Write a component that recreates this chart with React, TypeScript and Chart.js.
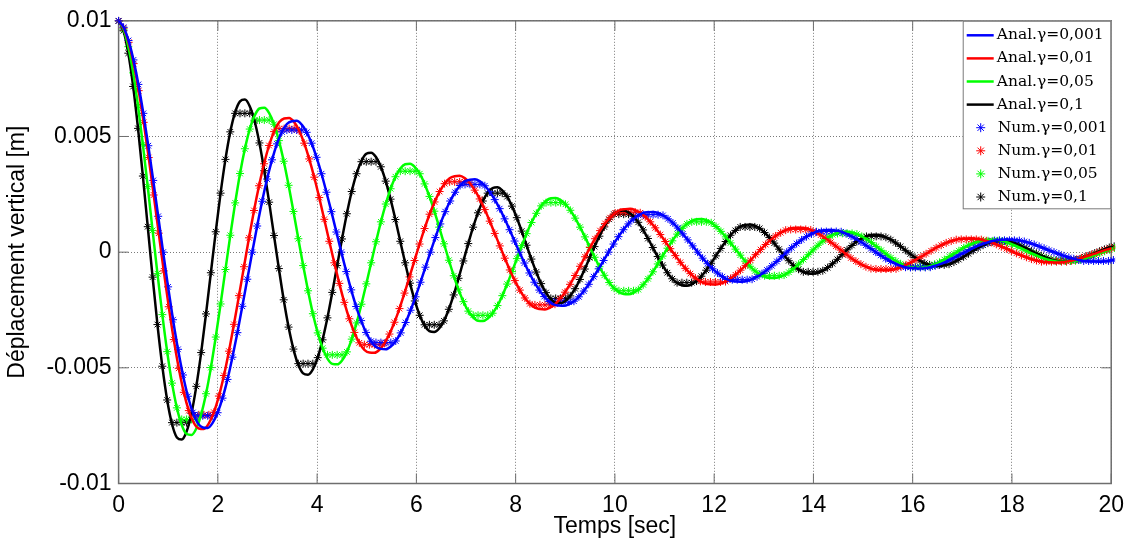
import React, { useEffect, useRef } from 'react';
import { Chart, registerables } from 'chart.js';

Chart.register(...registerables);

// ---------- axes ----------
const X_TICKS = [0, 2, 4, 6, 8, 10, 12, 14, 16, 18, 20];
const Y_TICKS = [-0.01, -0.005, 0, 0.005, 0.01];
const Y_TICK_LABELS = ['-0.01', '-0.005', '0', '0.005', '0.01'];

// ---------- legend labels ----------
const ANAL_LABELS = ['Anal.γ=0,001', 'Anal.γ=0,01', 'Anal.γ=0,05', 'Anal.γ=0,1'];
const NUM_LABELS = ['Num.γ=0,001', 'Num.γ=0,01', 'Num.γ=0,05', 'Num.γ=0,1'];
const COLORS = ['#0000ff', '#ff0000', '#00ff00', '#000000'];

// ---------- sampling time step of each series [s] ----------
const DT_G0001 = 0.09972;
const DT_G001 = 0.10106;
const DT_G005 = 0.09787;
const DT_G01 = 0.09785;

// ---------- displacement values [mm], sample i at t = i * DT ----------
const ANAL_G0001_MM = [
  10, 9.72, 9.15, 8.31, 7.25, 6.0, 4.6, 3.1, 1.55, 0, -1.5, -2.92, -4.2, -5.31, -6.23, -6.93, -7.39, -7.58,
  -7.6, -7.38, -6.94, -6.31, -5.5, -4.54, -3.48, -2.34, -1.17, 0, 1.13, 2.2, 3.16, 3.99, 4.68, 5.2, 5.54, 5.66,
  5.68, 5.51, 5.18, 4.71, 4.1, 3.39, 2.59, 1.75, 0.87, 0, -0.84, -1.63, -2.35, -2.96, -3.47, -3.85, -4.1, -4.18,
  -4.2, -4.08, -3.84, -3.49, -3.04, -2.51, -1.93, -1.3, -0.65, 0, 0.63, 1.22, 1.75, 2.21, 2.59, 2.88, 3.07, 3.13,
  3.15, 3.06, 2.87, 2.61, 2.27, 1.88, 1.44, 0.97, 0.48, 0, -0.47, -0.9, -1.3, -1.64, -1.92, -2.13, -2.27, -2.31,
  -2.32, -2.25, -2.12, -1.93, -1.68, -1.39, -1.06, -0.72, -0.36, 0, 0.35, 0.67, 0.97, 1.22, 1.43, 1.59, 1.7, 1.73,
  1.74, 1.69, 1.59, 1.44, 1.26, 1.04, 0.79, 0.53, 0.27, 0, -0.26, -0.5, -0.72, -0.9, -1.06, -1.18, -1.25, -1.27,
  -1.28, -1.24, -1.17, -1.06, -0.93, -0.77, -0.59, -0.4, -0.2, 0, 0.19, 0.37, 0.53, 0.67, 0.79, 0.88, 0.94, 0.95,
  0.96, 0.93, 0.88, 0.8, 0.69, 0.57, 0.44, 0.3, 0.15, 0, -0.14, -0.28, -0.4, -0.5, -0.59, -0.65, -0.69, -0.7,
  -0.71, -0.69, -0.65, -0.59, -0.52, -0.43, -0.33, -0.22, -0.11, 0, 0.11, 0.21, 0.3, 0.38, 0.45, 0.5, 0.53, 0.54,
  0.55, 0.53, 0.5, 0.46, 0.4, 0.33, 0.25, 0.17, 0.08, 0, -0.08, -0.16, -0.23, -0.29, -0.34, -0.38, -0.4, -0.4,
  -0.41, -0.4, -0.38, -0.34,
];
const NUM_G0001_MM = [
  10, 9.72, 9.15, 8.31, 7.25, 6.0, 4.6, 3.1, 1.55, 0, -1.5, -2.92, -4.2, -5.31, -6.23, -6.93, -7.07, -7.07,
  -7.07, -7.07, -6.94, -6.31, -5.5, -4.54, -3.48, -2.34, -1.17, 0, 1.13, 2.2, 3.16, 3.99, 4.68, 5.2, 5.28, 5.28,
  5.28, 5.28, 5.18, 4.71, 4.1, 3.39, 2.59, 1.75, 0.87, 0, -0.84, -1.63, -2.35, -2.96, -3.47, -3.85, -3.91, -3.91,
  -3.91, -3.91, -3.84, -3.49, -3.04, -2.51, -1.93, -1.3, -0.65, 0, 0.63, 1.22, 1.75, 2.21, 2.59, 2.88, 2.93, 2.93,
  2.93, 2.93, 2.87, 2.61, 2.27, 1.88, 1.44, 0.97, 0.48, 0, -0.47, -0.9, -1.3, -1.64, -1.92, -2.13, -2.16, -2.16,
  -2.16, -2.16, -2.12, -1.93, -1.68, -1.39, -1.06, -0.72, -0.36, 0, 0.35, 0.67, 0.97, 1.22, 1.43, 1.59, 1.62, 1.62,
  1.62, 1.62, 1.59, 1.44, 1.26, 1.04, 0.79, 0.53, 0.27, 0, -0.26, -0.5, -0.72, -0.9, -1.06, -1.18, -1.19, -1.19,
  -1.19, -1.19, -1.17, -1.06, -0.93, -0.77, -0.59, -0.4, -0.2, 0, 0.19, 0.37, 0.53, 0.67, 0.79, 0.88, 0.89, 0.89,
  0.89, 0.89, 0.88, 0.8, 0.69, 0.57, 0.44, 0.3, 0.15, 0, -0.14, -0.28, -0.4, -0.5, -0.59, -0.65, -0.66, -0.66,
  -0.66, -0.66, -0.65, -0.59, -0.52, -0.43, -0.33, -0.22, -0.11, 0, 0.11, 0.21, 0.3, 0.38, 0.45, 0.5, 0.51, 0.51,
  0.51, 0.51, 0.5, 0.46, 0.4, 0.33, 0.25, 0.17, 0.08, 0, -0.08, -0.16, -0.23, -0.29, -0.34, -0.38, -0.38, -0.38,
  -0.38, -0.38, -0.38, -0.34,
];

const ANAL_G001_MM = [
  10, 9.69, 9.07, 8.15, 6.98, 5.61, 4.09, 2.47, 0.82, -0.81, -2.36, -3.78, -5.02, -6.06, -6.85, -7.38, -7.62,
  -7.64, -7.4, -6.92, -6.22, -5.33, -4.28, -3.12, -1.88, -0.63, 0.62, 1.8, 2.87, 3.82, 4.61, 5.21, 5.61, 5.78,
  5.8, 5.62, 5.25, 4.71, 4.03, 3.24, 2.36, 1.42, 0.47, -0.46, -1.35, -2.17, -2.88, -3.47, -3.92, -4.22, -4.34,
  -4.35, -4.22, -3.94, -3.54, -3.03, -2.44, -1.77, -1.07, -0.36, 0.35, 1.02, 1.64, 2.17, 2.62, 2.96, 3.19, 3.28,
  3.3, 3.2, 2.99, 2.68, 2.3, 1.84, 1.34, 0.81, 0.27, -0.26, -0.77, -1.23, -1.64, -1.98, -2.23, -2.4, -2.46,
  -2.48, -2.4, -2.25, -2.02, -1.73, -1.39, -1.01, -0.61, -0.2, 0.2, 0.58, 0.93, 1.24, 1.49, 1.69, 1.82, 1.86,
  1.88, 1.82, 1.7, 1.53, 1.31, 1.05, 0.76, 0.46, 0.15, -0.15, -0.44, -0.7, -0.93, -1.12, -1.26, -1.36, -1.39,
  -1.4, -1.36, -1.27, -1.14, -0.98, -0.78, -0.57, -0.35, -0.11, 0.11, 0.33, 0.53, 0.7, 0.84, 0.95, 1.03, 1.05,
  1.06, 1.03, 0.96, 0.86, 0.74, 0.59, 0.43, 0.26, 0.09, -0.08, -0.25, -0.39, -0.52, -0.63, -0.71, -0.77, -0.78,
  -0.79, -0.77, -0.72, -0.64, -0.55, -0.44, -0.32, -0.2, -0.07, 0.06, 0.19, 0.3, 0.4, 0.48, 0.54, 0.58, 0.59,
  0.6, 0.58, 0.54, 0.49, 0.42, 0.34, 0.24, 0.15, 0.05, -0.05, -0.14, -0.22, -0.3, -0.36, -0.41, -0.44, -0.44,
  -0.45, -0.44, -0.41, -0.37, -0.31, -0.25, -0.18, -0.11, -0.04, 0.04, 0.11, 0.17,
];
const NUM_G001_MM = [
  10, 9.69, 9.07, 8.15, 6.98, 5.61, 4.09, 2.47, 0.82, -0.81, -2.36, -3.78, -5.02, -6.06, -6.85, -7.03, -7.03,
  -7.03, -7.03, -6.92, -6.22, -5.33, -4.28, -3.12, -1.88, -0.63, 0.62, 1.8, 2.87, 3.82, 4.61, 5.21, 5.34, 5.34,
  5.34, 5.34, 5.25, 4.71, 4.03, 3.24, 2.36, 1.42, 0.47, -0.46, -1.35, -2.17, -2.88, -3.47, -3.92, -4.0, -4.0,
  -4.0, -4.0, -3.94, -3.54, -3.03, -2.44, -1.77, -1.07, -0.36, 0.35, 1.02, 1.64, 2.17, 2.62, 2.96, 3.04, 3.04,
  3.04, 3.04, 2.99, 2.68, 2.3, 1.84, 1.34, 0.81, 0.27, -0.26, -0.77, -1.23, -1.64, -1.98, -2.23, -2.28, -2.28,
  -2.28, -2.28, -2.25, -2.02, -1.73, -1.39, -1.01, -0.61, -0.2, 0.2, 0.58, 0.93, 1.24, 1.49, 1.69, 1.73, 1.73,
  1.73, 1.73, 1.7, 1.53, 1.31, 1.05, 0.76, 0.46, 0.15, -0.15, -0.44, -0.7, -0.93, -1.12, -1.26, -1.29, -1.29,
  -1.29, -1.29, -1.27, -1.14, -0.98, -0.78, -0.57, -0.35, -0.11, 0.11, 0.33, 0.53, 0.7, 0.84, 0.95, 0.98, 0.98,
  0.98, 0.98, 0.96, 0.86, 0.74, 0.59, 0.43, 0.26, 0.09, -0.08, -0.25, -0.39, -0.52, -0.63, -0.71, -0.73, -0.73,
  -0.73, -0.73, -0.72, -0.64, -0.55, -0.44, -0.32, -0.2, -0.07, 0.06, 0.19, 0.3, 0.4, 0.48, 0.54, 0.55, 0.55,
  0.55, 0.55, 0.54, 0.49, 0.42, 0.34, 0.24, 0.15, 0.05, -0.05, -0.14, -0.22, -0.3, -0.36, -0.41, -0.41, -0.41,
  -0.41, -0.41, -0.41, -0.37, -0.31, -0.25, -0.18, -0.11, -0.04, 0.04, 0.11, 0.17,
];

const ANAL_G005_MM = [
  10, 9.64, 8.88, 7.75, 6.32, 4.65, 2.83, 0.94, -0.93, -2.7, -4.3, -5.66, -6.73, -7.47, -7.86,
  -7.9, -7.62, -7.01, -6.12, -4.99, -3.67, -2.24, -0.75, 0.73, 2.13, 3.4, 4.47, 5.32, 5.9, 6.21,
  6.24, 6.01, 5.53, 4.82, 3.93, 2.89, 1.76, 0.58, -0.58, -1.67, -2.66, -3.49, -4.15, -4.6, -4.83,
  -4.85, -4.68, -4.31, -3.76, -3.06, -2.25, -1.37, -0.46, 0.45, 1.31, 2.08, 2.74, 3.26, 3.62, 3.8,
  3.82, 3.68, 3.39, 2.95, 2.41, 1.77, 1.08, 0.36, -0.35, -1.02, -1.63, -2.14, -2.55, -2.82, -2.97,
  -2.98, -2.87, -2.64, -2.31, -1.88, -1.38, -0.84, -0.28, 0.28, 0.8, 1.28, 1.68, 2.0, 2.22, 2.33,
  2.34, 2.25, 2.07, 1.81, 1.47, 1.08, 0.66, 0.22, -0.22, -0.63, -1.0, -1.31, -1.56, -1.73, -1.81,
  -1.82, -1.76, -1.62, -1.41, -1.15, -0.85, -0.51, -0.17, 0.17, 0.49, 0.78, 1.03, 1.22, 1.35, 1.42,
  1.43, 1.38, 1.27, 1.11, 0.9, 0.66, 0.4, 0.13, -0.13, -0.39, -0.61, -0.81, -0.96, -1.06, -1.12,
  -1.12, -1.08, -0.99, -0.87, -0.71, -0.52, -0.32, -0.11, 0.1, 0.3, 0.48, 0.63, 0.75, 0.83, 0.88,
  0.88, 0.85, 0.78, 0.68, 0.56, 0.41, 0.25, 0.08, -0.08, -0.24, -0.38, -0.5, -0.59, -0.65, -0.69,
  -0.69, -0.67, -0.61, -0.53, -0.44, -0.32, -0.19, -0.07, 0.06, 0.19, 0.3, 0.39, 0.46, 0.51, 0.54,
  0.54, 0.52, 0.48, 0.42, 0.34, 0.25, 0.15, 0.05, -0.05, -0.14, -0.23, -0.3, -0.36, -0.4, -0.42,
  -0.42, -0.41, -0.37, -0.33, -0.27, -0.2, -0.12, -0.04, 0.04, 0.11, 0.18,
];
const NUM_G005_MM = [
  10, 9.64, 8.88, 7.75, 6.32, 4.65, 2.83, 0.94, -0.93, -2.7, -4.3, -5.66, -6.73, -7.23, -7.23,
  -7.23, -7.23, -7.01, -6.12, -4.99, -3.67, -2.24, -0.75, 0.73, 2.13, 3.4, 4.47, 5.32, 5.71, 5.71,
  5.71, 5.71, 5.53, 4.82, 3.93, 2.89, 1.76, 0.58, -0.58, -1.67, -2.66, -3.49, -4.15, -4.44, -4.44,
  -4.44, -4.44, -4.31, -3.76, -3.06, -2.25, -1.37, -0.46, 0.45, 1.31, 2.08, 2.74, 3.26, 3.5, 3.5,
  3.5, 3.5, 3.39, 2.95, 2.41, 1.77, 1.08, 0.36, -0.35, -1.02, -1.63, -2.14, -2.55, -2.73, -2.73,
  -2.73, -2.73, -2.64, -2.31, -1.88, -1.38, -0.84, -0.28, 0.28, 0.8, 1.28, 1.68, 2.0, 2.14, 2.14,
  2.14, 2.14, 2.07, 1.81, 1.47, 1.08, 0.66, 0.22, -0.22, -0.63, -1.0, -1.31, -1.56, -1.67, -1.67,
  -1.67, -1.67, -1.62, -1.41, -1.15, -0.85, -0.51, -0.17, 0.17, 0.49, 0.78, 1.03, 1.22, 1.31, 1.31,
  1.31, 1.31, 1.27, 1.11, 0.9, 0.66, 0.4, 0.13, -0.13, -0.39, -0.61, -0.81, -0.96, -1.02, -1.02,
  -1.02, -1.02, -0.99, -0.87, -0.71, -0.52, -0.32, -0.11, 0.1, 0.3, 0.48, 0.63, 0.75, 0.81, 0.81,
  0.81, 0.81, 0.78, 0.68, 0.56, 0.41, 0.25, 0.08, -0.08, -0.24, -0.38, -0.5, -0.59, -0.63, -0.63,
  -0.63, -0.63, -0.61, -0.53, -0.44, -0.32, -0.19, -0.07, 0.06, 0.19, 0.3, 0.39, 0.46, 0.49, 0.49,
  0.49, 0.49, 0.48, 0.42, 0.34, 0.25, 0.15, 0.05, -0.05, -0.14, -0.23, -0.3, -0.36, -0.38, -0.38,
  -0.38, -0.38, -0.37, -0.33, -0.27, -0.2, -0.12, -0.04, 0.04, 0.11, 0.18,
];

const ANAL_G01_MM = [
  10, 9.57, 8.6, 7.16, 5.35, 3.29, 1.1, -1.08, -3.13, -4.93, -6.39, -7.43, -8.01,
  -8.1, -7.75, -6.97, -5.8, -4.34, -2.67, -0.89, 0.88, 2.55, 4.01, 5.2, 6.05, 6.52,
  6.6, 6.31, 5.67, 4.72, 3.52, 2.16, 0.72, -0.71, -2.06, -3.24, -4.19, -4.87, -5.24,
  -5.3, -5.07, -4.56, -3.79, -2.84, -1.74, -0.58, 0.57, 1.66, 2.62, 3.39, 3.94, 4.25,
  4.3, 4.11, 3.69, 3.07, 2.29, 1.41, 0.47, -0.46, -1.34, -2.11, -2.73, -3.17, -3.41,
  -3.45, -3.3, -2.97, -2.47, -1.85, -1.13, -0.38, 0.37, 1.08, 1.7, 2.21, 2.57, 2.77,
  2.8, 2.67, 2.4, 1.99, 1.49, 0.91, 0.3, -0.3, -0.86, -1.36, -1.75, -2.03, -2.18,
  -2.2, -2.11, -1.89, -1.58, -1.18, -0.73, -0.24, 0.24, 0.69, 1.09, 1.42, 1.65, 1.78,
  1.8, 1.72, 1.55, 1.29, 0.96, 0.59, 0.2, -0.19, -0.56, -0.89, -1.15, -1.33, -1.43,
  -1.45, -1.39, -1.25, -1.04, -0.78, -0.48, -0.16, 0.16, 0.46, 0.73, 0.94, 1.1, 1.18,
  1.2, 1.15, 1.03, 0.85, 0.63, 0.39, 0.13, -0.13, -0.37, -0.58, -0.74, -0.86, -0.92,
  -0.93, -0.89, -0.8, -0.67, -0.5, -0.31, -0.1, 0.1, 0.29, 0.46, 0.59, 0.69, 0.74,
  0.75, 0.72, 0.64, 0.54, 0.4, 0.25, 0.08, -0.08, -0.23, -0.37, -0.48, -0.55, -0.59,
  -0.6, -0.57, -0.52, -0.43, -0.32, -0.2, -0.07, 0.07, 0.19, 0.3, 0.39, 0.45, 0.48,
  0.49, 0.47, 0.42, 0.35, 0.26, 0.16, 0.05, -0.05, -0.15, -0.24, -0.31, -0.37, -0.4,
  -0.4, -0.38, -0.34, -0.29, -0.21, -0.13, -0.04, 0.04, 0.12, 0.2, 0.25,
];
const NUM_G01_MM = [
  10, 9.57, 8.6, 7.16, 5.35, 3.29, 1.1, -1.08, -3.13, -4.93, -6.39, -7.37, -7.37,
  -7.37, -7.37, -6.97, -5.8, -4.34, -2.67, -0.89, 0.88, 2.55, 4.01, 5.2, 6.0, 6.0,
  6.0, 6.0, 5.67, 4.72, 3.52, 2.16, 0.72, -0.71, -2.06, -3.24, -4.19, -4.82, -4.82,
  -4.82, -4.82, -4.56, -3.79, -2.84, -1.74, -0.58, 0.57, 1.66, 2.62, 3.39, 3.91, 3.91,
  3.91, 3.91, 3.69, 3.07, 2.29, 1.41, 0.47, -0.46, -1.34, -2.11, -2.73, -3.14, -3.14,
  -3.14, -3.14, -2.97, -2.47, -1.85, -1.13, -0.38, 0.37, 1.08, 1.7, 2.21, 2.55, 2.55,
  2.55, 2.55, 2.4, 1.99, 1.49, 0.91, 0.3, -0.3, -0.86, -1.36, -1.75, -2.0, -2.0,
  -2.0, -2.0, -1.89, -1.58, -1.18, -0.73, -0.24, 0.24, 0.69, 1.09, 1.42, 1.64, 1.64,
  1.64, 1.64, 1.55, 1.29, 0.96, 0.59, 0.2, -0.19, -0.56, -0.89, -1.15, -1.32, -1.32,
  -1.32, -1.32, -1.25, -1.04, -0.78, -0.48, -0.16, 0.16, 0.46, 0.73, 0.94, 1.09, 1.09,
  1.09, 1.09, 1.03, 0.85, 0.63, 0.39, 0.13, -0.13, -0.37, -0.58, -0.74, -0.85, -0.85,
  -0.85, -0.85, -0.8, -0.67, -0.5, -0.31, -0.1, 0.1, 0.29, 0.46, 0.59, 0.68, 0.68,
  0.68, 0.68, 0.64, 0.54, 0.4, 0.25, 0.08, -0.08, -0.23, -0.37, -0.48, -0.55, -0.55,
  -0.55, -0.55, -0.52, -0.43, -0.32, -0.2, -0.07, 0.07, 0.19, 0.3, 0.39, 0.45, 0.45,
  0.45, 0.45, 0.42, 0.35, 0.26, 0.16, 0.05, -0.05, -0.15, -0.24, -0.31, -0.36, -0.36,
  -0.36, -0.36, -0.34, -0.29, -0.21, -0.13, -0.04, 0.04, 0.12, 0.2, 0.25,
];

// ---------- helpers ----------
const toPoints = (valuesMm: number[], dt: number) =>
  valuesMm.map((v, i) => ({ x: i * dt, y: v / 1000 }));

const AXIS_FONT = { family: '"Liberation Sans", Arial, sans-serif', size: 23 };
const LEGEND_FONT = '15.5px "DejaVu Serif", serif';
const FRAME_COLOR = '#6e6e6e';

const framePlugin = {
  id: 'matlabFrame',
  beforeDatasetsDraw(chart: any) {
    const { ctx, chartArea } = chart;
    const { left, right, top, bottom } = chartArea;
    const xs = chart.scales.x;
    const ys = chart.scales.y;
    ctx.save();
    ctx.strokeStyle = FRAME_COLOR;
    ctx.lineWidth = 1;
    ctx.beginPath();
    X_TICKS.forEach((v) => {
      const px = xs.getPixelForValue(v);
      ctx.moveTo(px, bottom);
      ctx.lineTo(px, bottom - 10);
      ctx.moveTo(px, top);
      ctx.lineTo(px, top + 10);
    });
    Y_TICKS.forEach((v) => {
      const py = ys.getPixelForValue(v);
      ctx.moveTo(left, py);
      ctx.lineTo(left + 10, py);
      ctx.moveTo(right, py);
      ctx.lineTo(right - 10, py);
    });
    ctx.stroke();
    ctx.lineWidth = 1.5;
    ctx.strokeRect(left, top, right - left, bottom - top);
    ctx.restore();
  },
};

const legendPlugin = {
  id: 'boxLegend',
  afterDraw(chart: any) {
    const { ctx, chartArea } = chart;
    const w = 148.5;
    const h = 188.5;
    const x0 = chartArea.right - w;
    const y0 = chartArea.top;
    ctx.save();
    ctx.fillStyle = '#ffffff';
    ctx.fillRect(x0, y0, w, h);
    ctx.strokeStyle = '#7a7a7a';
    ctx.lineWidth = 1;
    ctx.strokeRect(x0 + 0.5, y0 + 0.5, w - 1, h - 1);
    ctx.font = LEGEND_FONT;
    ctx.textBaseline = 'middle';
    ctx.textAlign = 'left';
    chart.data.datasets.forEach((ds: any, i: number) => {
      const cy = y0 + 14.5 + i * 23.1;
      const color = ds.borderColor;
      if (ds.showLine === false) {
        const cx = x0 + 18;
        const r = 4.5;
        ctx.strokeStyle = color;
        ctx.lineWidth = 1;
        ctx.beginPath();
        for (let a = 0; a < 4; a++) {
          const ang = (a * Math.PI) / 4;
          ctx.moveTo(cx - r * Math.cos(ang), cy - r * Math.sin(ang));
          ctx.lineTo(cx + r * Math.cos(ang), cy + r * Math.sin(ang));
        }
        ctx.stroke();
        ctx.fillStyle = '#000';
        ctx.fillText(ds.label, x0 + 35, cy);
      } else {
        ctx.strokeStyle = color;
        ctx.lineWidth = 2.5;
        ctx.beginPath();
        ctx.moveTo(x0 + 4, cy);
        ctx.lineTo(x0 + 31, cy);
        ctx.stroke();
        ctx.fillStyle = '#000';
        ctx.fillText(ds.label, x0 + 34, cy);
      }
    });
    ctx.restore();
  },
};

export default function App() {
  const canvasRef = useRef<HTMLCanvasElement>(null);

  useEffect(() => {
    document.body.style.margin = '0';
    const canvas = canvasRef.current;
    if (!canvas) return;

    const analSets = [
      { vals: ANAL_G0001_MM, dt: DT_G0001 },
      { vals: ANAL_G001_MM, dt: DT_G001 },
      { vals: ANAL_G005_MM, dt: DT_G005 },
      { vals: ANAL_G01_MM, dt: DT_G01 },
    ].map((s, i) => ({
      label: ANAL_LABELS[i],
      data: toPoints(s.vals, s.dt),
      borderColor: COLORS[i],
      backgroundColor: COLORS[i],
      borderWidth: 2.5,
      pointRadius: 0,
      cubicInterpolationMode: 'monotone' as const,
      fill: false,
      clip: 2,
    }));

    const numSets = [
      { vals: NUM_G0001_MM, dt: DT_G0001 },
      { vals: NUM_G001_MM, dt: DT_G001 },
      { vals: NUM_G005_MM, dt: DT_G005 },
      { vals: NUM_G01_MM, dt: DT_G01 },
    ].map((s, i) => ({
      label: NUM_LABELS[i],
      data: toPoints(s.vals, s.dt),
      borderColor: COLORS[i],
      backgroundColor: COLORS[i],
      showLine: false,
      pointStyle: 'star' as const,
      pointRadius: 4,
      pointBorderWidth: 1,
      pointHoverRadius: 4,
      clip: 4,
    }));

    const chart = new Chart(canvas, {
      type: 'line',
      data: { datasets: [...analSets, ...numSets] as any },
      options: {
        responsive: false,
        animation: false,
        events: [],
        layout: { padding: { left: 0, right: 20.4, top: 20.5, bottom: 0 } },
        plugins: {
          legend: { display: false },
          tooltip: { enabled: false },
        },
        scales: {
          x: {
            type: 'linear',
            min: 0,
            max: 20,
            afterBuildTicks: (scale: any) => {
              scale.ticks = X_TICKS.map((value) => ({ value }));
            },
            afterFit: (scale: any) => {
              scale.height = 56.5;
            },
            ticks: {
              font: AXIS_FONT,
              color: '#000',
              padding: 8,
              maxRotation: 0,
              autoSkip: false,
              callback: (v: any) => String(v),
            },
            grid: { color: '#7a7a7a', lineWidth: 1, drawTicks: false },
            border: { display: false, dash: [1, 2] },
            title: {
              display: true,
              text: 'Temps [sec]',
              font: AXIS_FONT,
              color: '#000',
              padding: { top: 0, bottom: 0 },
            },
          },
          y: {
            type: 'linear',
            min: -0.01,
            max: 0.01,
            afterBuildTicks: (scale: any) => {
              scale.ticks = Y_TICKS.map((value) => ({ value }));
            },
            afterFit: (scale: any) => {
              scale.width = 118.6;
            },
            ticks: {
              font: AXIS_FONT,
              color: '#000',
              padding: 7,
              autoSkip: false,
              callback: (_v: any, idx: number) => Y_TICK_LABELS[idx],
            },
            grid: { color: '#7a7a7a', lineWidth: 1, drawTicks: false },
            border: { display: false, dash: [1, 2] },
            title: {
              display: true,
              text: 'Déplacement vertical [m]',
              font: AXIS_FONT,
              color: '#000',
              padding: { top: 4, bottom: 0 },
            },
          },
        },
      },
      plugins: [framePlugin, legendPlugin],
    } as any);

    return () => chart.destroy();
  }, []);

  return (
    <div style={{ width: 1132, height: 540, position: 'relative', background: '#fff' }}>
      <canvas ref={canvasRef} width={1132} height={540} style={{ display: 'block' }} />
    </div>
  );
}
